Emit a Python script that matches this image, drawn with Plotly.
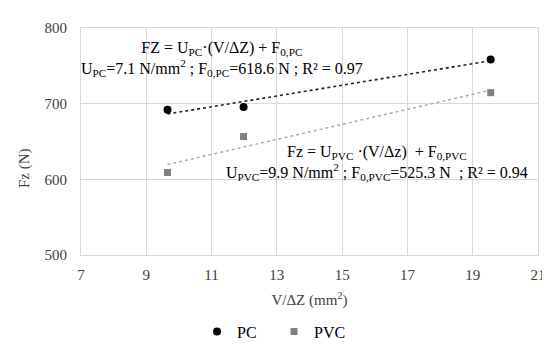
import numpy as np
import plotly.graph_objects as go

# Data
pc_x = [9.65, 11.98, 19.55]
pc_y = [692, 695.5, 758.5]
pvc_x = [9.65, 11.98, 19.55]
pvc_y = [609, 656.5, 714.5]

x_ticks = [7, 9, 11, 13, 15, 17, 19, 21]
y_ticks = [500, 600, 700, 800]

FONT = "Liberation Serif"

def fit_line(x, y):
    m, b = np.polyfit(x, y, 1)
    xs = np.array([min(x), max(x)])
    return xs, m * xs + b

pc_lx, pc_ly = fit_line(pc_x, pc_y)
pvc_lx, pvc_ly = fit_line(pvc_x, pvc_y)

fig = go.Figure()
fig.add_trace(go.Scatter(x=pc_lx, y=pc_ly, mode="lines",
                         line=dict(color="#222222", width=1.6, dash="dot"),
                         showlegend=False, hoverinfo="skip"))
fig.add_trace(go.Scatter(x=pvc_lx, y=pvc_ly, mode="lines",
                         line=dict(color="#a6a6a6", width=1.4, dash="dot"),
                         showlegend=False, hoverinfo="skip"))
fig.add_trace(go.Scatter(x=pc_x, y=pc_y, mode="markers", name="PC",
                         marker=dict(symbol="circle", size=8, color="#000000")))
fig.add_trace(go.Scatter(x=pvc_x, y=pvc_y, mode="markers", name="PVC",
                         marker=dict(symbol="square", size=7, color="#808080")))

L, R, T, B = 73, 13, 13, 97
W, H = 550, 353
pw, ph = W - L - R, H - T - B

annots = [
    dict(text="FZ = U<sub>PC</sub>·(V/ΔZ) + F<sub>0,PC</sub><br>"
              "U<sub>PC</sub>=7.1 N/mm<sup>2</sup> ; F<sub>0,PC</sub>=618.6 N ; R² = 0.97",
         px=216, py=46),
    dict(text="Fz = U<sub>PVC</sub> ·(V/Δz)  + F<sub>0,PVC</sub><br>"
              "U<sub>PVC</sub>=9.9 N/mm<sup>2</sup> ; F<sub>0,PVC</sub>=525.3 N  ; R² = 0.94",
         px=374, py=157),
]
for a in annots:
    fig.add_annotation(text=a["text"], xref="paper", yref="paper",
                       x=(a["px"] - L) / pw, y=(H - B - a["py"]) / ph,
                       xanchor="center", yanchor="middle", showarrow=False,
                       align="center", font=dict(family=FONT, size=16, color="#000000"))

fig.add_annotation(text="Fz (N)", xref="paper", yref="paper",
                   x=(15 - L) / pw, y=(H - B - 163) / ph, textangle=-90,
                   xanchor="center", yanchor="middle", showarrow=False,
                   font=dict(family=FONT, size=15, color="#404040"))

fig.update_layout(
    width=W, height=H,
    margin=dict(l=L, r=R, t=T, b=B),
    paper_bgcolor="white", plot_bgcolor="white",
    font=dict(family=FONT, size=15, color="#404040"),
    legend=dict(orientation="h", x=(269 - L) / pw, y=(H - B - 338) / ph,
                xanchor="center", yanchor="middle",
                font=dict(family=FONT, size=16, color="#000000"),
                itemwidth=30, tracegroupgap=0, entrywidth=32),
)
fig.update_xaxes(range=[7, 21], tickvals=x_ticks, ticktext=[str(v) for v in x_ticks],
                 showgrid=True, gridcolor="#d9d9d9", gridwidth=1,
                 showline=True, linecolor="#d9d9d9", mirror=True, zeroline=False,
                 ticks="", ticklabelstandoff=6,
                 tickfont=dict(family=FONT, size=15, color="#404040"),
                 title=dict(text="V/ΔZ (mm<sup>2</sup>)", standoff=12,
                            font=dict(family=FONT, size=15, color="#404040")))
fig.update_yaxes(range=[500, 800], tickvals=y_ticks, ticktext=[str(v) for v in y_ticks],
                 showgrid=True, gridcolor="#d9d9d9", gridwidth=1,
                 showline=True, linecolor="#d9d9d9", mirror=True, zeroline=False,
                 ticks="", ticklabelstandoff=10,
                 tickfont=dict(family=FONT, size=15, color="#404040"))

fig.write_html("out.html")
